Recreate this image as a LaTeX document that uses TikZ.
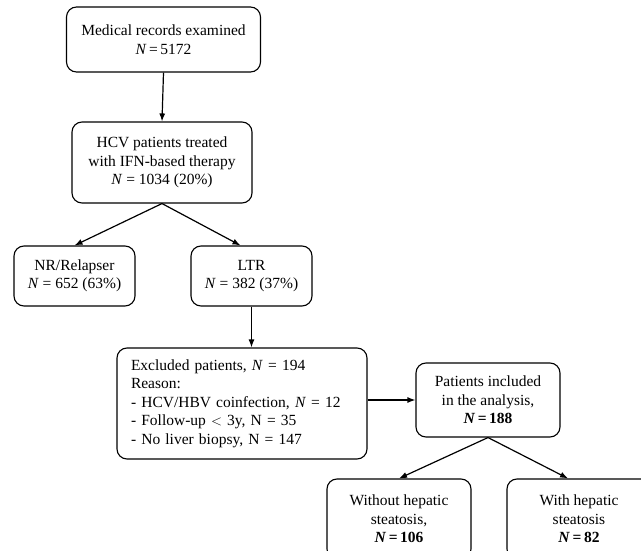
\documentclass[tikz,border=0pt]{standalone}
\usepackage{fontspec}
\setmainfont{Liberation Serif}
\usetikzlibrary{calc,arrows.meta}
\begin{document}
\begin{tikzpicture}[x=1pt,y=-1pt,
  box/.style={draw,line width=1.1pt,rounded corners=10pt,align=center,inner sep=2pt,
    font=\fontsize{15.5}{18.5}\selectfont},
  arr/.style={line width=1.2pt,-{Latex[length=8pt,width=6pt]}}]
\clip (0,0) rectangle (641,551);
\fill[white] (0,0) rectangle (641,551);
\node[box,minimum width=194pt,minimum height=65pt] (rec) at (163.5,39.5)
  {Medical records examined\\\textit{N}\,=\,5172};
\node[box,minimum width=180pt,minimum height=81pt] (hcv) at (162,162.5)
  {HCV patients treated\\with IFN-based therapy\\\textit{N} = 1034 (20\%)};
\node[box,minimum width=121pt,minimum height=60pt] (nr) at (74.5,276)
  {NR/Relapser\\\textit{N} = 652 (63\%)};
\node[box,minimum width=121pt,minimum height=60pt] (ltr) at (251.5,276)
  {LTR\\\textit{N} = 382 (37\%)};
\node[box,minimum width=250pt,minimum height=111pt,text width=222pt,align=left] (exc) at (242,403.5)
  {Excluded patients, \textit{N} = 194\\Reason:\\- HCV/HBV coinfection, \textit{N} = 12\\- Follow-up $<$ 3y, N = 35\\- No liver biopsy, N = 147};
\node[box,minimum width=144pt,minimum height=74pt] (inc) at (488,400)
  {Patients included\\in the analysis,\\\textbf{\textit{N}\,=\,188}};
\node[box,minimum width=144pt,minimum height=80pt] (wo) at (399,519)
  {Without hepatic\\steatosis,\\\textbf{\textit{N}\,=\,106}};
\node[box,minimum width=144pt,minimum height=80pt] (wi) at (579,519)
  {With hepatic\\steatosis\\\textbf{\textit{N}\,=\,82}};
\draw[arr] (rec.south) -- (hcv.north);
\draw[arr] (hcv.south) -- (nr.north);
\coordinate (ltrin) at ($(ltr.north)+(-11,0)$);
\draw[arr] (hcv.south) -- (ltrin);
\draw[arr] (ltr.south) -- (ltr.south |- exc.north);
\draw[arr] (inc.west -| exc.east) -- (inc.west);
\draw[arr] (inc.south) -- (wo.north);
\coordinate (wiin) at ($(wi.north)+(-11,0)$);
\draw[arr] (inc.south) -- (wiin);
\end{tikzpicture}
\end{document}
